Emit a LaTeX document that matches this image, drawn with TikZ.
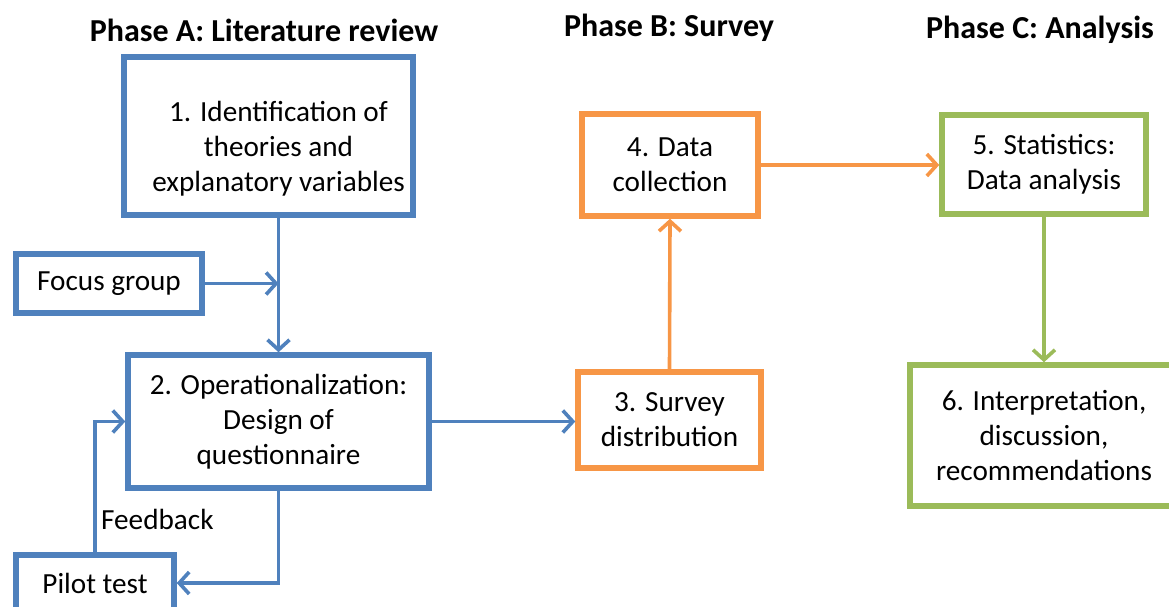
\documentclass[tikz,border=0pt]{standalone}
\usepackage{fontspec}
\setmainfont{Carlito}
\usetikzlibrary{arrows.meta}
\definecolor{cblue}{HTML}{4F81BD}
\definecolor{corange}{HTML}{F79646}
\definecolor{cgreen}{HTML}{9BBB59}
\tikzset{
  box/.style={draw, line width=5.5pt, fill=white, align=center, inner sep=0pt,
    font=\fontsize{29.2}{35}\selectfont, text=black},
  bluebox/.style={box, draw=cblue},
  orangebox/.style={box, draw=corange},
  greenbox/.style={box, draw=cgreen},
  conn/.style={line width=3.6pt, -{Straight Barb[length=10pt,width=22pt,line width=3.6pt]}},
  title/.style={font=\fontsize{32}{38}\selectfont\bfseries, text=black},
  lbl/.style={font=\fontsize{29.2}{35}\selectfont, text=black, inner sep=0pt}
}
\begin{document}
\begin{tikzpicture}[x=1pt,y=-1pt]
\useasboundingbox (0,0) rectangle (1169,607);
\clip (0,0) rectangle (1169,607);
% titles
\node[title] (tA) at (264,30) {Phase A: Literature review};
\node[title] (tB) at (669,28) {Phase B: Survey};
\node[title] (tC) at (1040,30) {Phase C: Analysis};
% boxes
\node[bluebox, minimum width=289pt, minimum height=158pt] (b1) at (268.5,136)
  {\hspace*{20pt}\raisebox{-14pt}[\height][\depth]{\begin{tabular}{@{}c@{}}1. Identification of\\theories and\\explanatory variables\end{tabular}}};
\node[bluebox, minimum width=186pt, minimum height=59pt] (fg) at (109,283.5) {Focus group};
\node[bluebox, minimum width=301pt, minimum height=133pt] (b2) at (278.5,421.5)
  {2. Operationalization:\\Design of\\questionnaire};
\node[bluebox, minimum width=158pt, minimum height=56pt] (pt) at (95,583) {Pilot test};
\node[orangebox, minimum width=183pt, minimum height=96pt] (b3) at (669.5,420) {3. Survey\\distribution};
\node[orangebox, minimum width=176pt, minimum height=102pt] (b4) at (670,165) {4. Data\\collection};
\node[greenbox, minimum width=204pt, minimum height=99pt] (b5) at (1044,164.5) {5. Statistics:\\Data analysis};
\node[greenbox, minimum width=268pt, minimum height=141pt] (b6) at (1044,435.5) {6. Interpretation,\\discussion,\\recommendations};
% connectors
\draw[conn, cblue] (b1.south -| b2.north) -- (b2.north);
\draw[conn, cblue] (fg.east) -- (fg.east -| b2.north);
\draw[conn, cblue] (b2.south) |- (pt.east);
\draw[conn, cblue] (pt.north) |- (b2.west);
\node[lbl, anchor=west] (fb) at (101,519) {Feedback};
\draw[conn, cblue] (b2.east) -- (b2.east -| b3.west);
\draw[conn, corange] (b3.north) -- (b4.south);
\draw[conn, corange] (b4.east) -- (b4.east -| b5.west);
\draw[conn, cgreen] (b5.south) -- (b6.north);
\end{tikzpicture}
\end{document}
